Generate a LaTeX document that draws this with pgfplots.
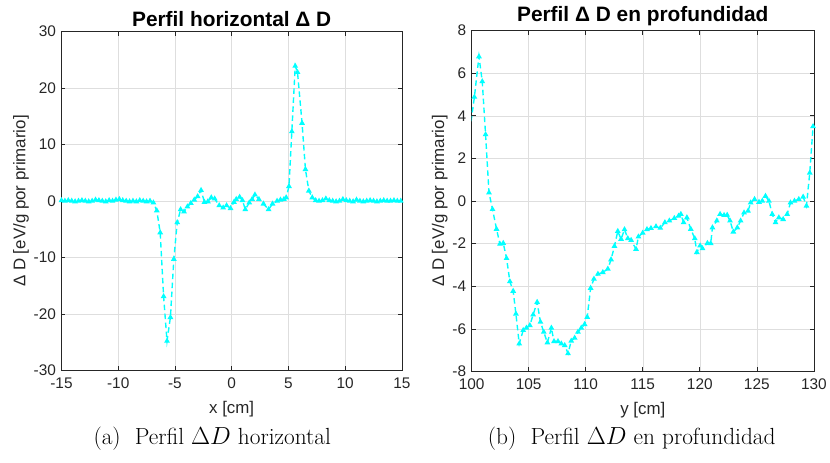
\documentclass[border=0pt]{standalone}
\usepackage{pgfplots}
\pgfplotsset{compat=1.18}
\usepackage{fontspec}
\newfontfamily\arial{Liberation Sans}
\definecolor{axc}{rgb}{0.15,0.15,0.15}
\definecolor{mcyan}{rgb}{0,1,1}
\pgfplotsset{mystyle/.style={
  scale only axis,
  axis line style={axc, line width=0.6bp},
  tick style={axc, line width=0.6bp},
  tick align=inside,
  major tick length=4bp,
  grid=major,
  grid style={black!13, line width=0.5bp},
  ticklabel style={font=\arial\fontsize{15.5}{17}\selectfont, text=axc},
  xticklabel style={yshift=-4bp},
  yticklabel style={xshift=-2bp},
  label style={font=\arial\fontsize{17}{19}\selectfont, text=axc},
  xlabel style={yshift=-6bp},
  ylabel style={yshift=-2bp},
  title style={font=\arial\bfseries\fontsize{21}{24}\selectfont, text=black, yshift=-5bp},
},
mplot/.style={color=mcyan, dash pattern=on 5.5bp off 3.5bp, line width=1.4bp, mark=triangle*, mark size=2bp, mark options={solid, fill=mcyan}}}
\begin{document}
\begin{tikzpicture}
\path (0,0) rectangle (830bp,464bp);
\begin{axis}[mystyle,
  at={(61.7bp,92.3bp)}, anchor=south west,
  width=341.6bp, height=340bp,
  xmin=-15, xmax=15, ymin=-30, ymax=30,
  xtick={-15,-10,-5,0,5,10,15},
  xticklabels={-15,-10,-5,0,5,10,15},
  ytick={-30,-20,-10,0,10,20,30},
  yticklabels={-30,-20,-10,0,10,20,30},
  title={Perfil horizontal Δ D},
  xlabel={x [cm]},
  ylabel={Δ D [eV/g por primario]},
]
\addplot[mplot] coordinates {
(-15.0,0.1) (-14.7,0.0) (-14.4,0.1) (-14.1,0.0) (-13.8,-0.1) (-13.5,0.0)
(-13.2,0.1) (-12.9,0.0) (-12.6,-0.1) (-12.3,0.0) (-12.0,0.2) (-11.7,0.1)
(-11.4,0.0) (-11.1,-0.1) (-10.8,0.1) (-10.5,0.0) (-10.2,0.2) (-9.9,0.3)
(-9.6,0.1) (-9.3,0.0) (-9.0,-0.1) (-8.7,0.0) (-8.4,-0.1) (-8.1,0.1)
(-7.8,0.0) (-7.5,-0.1) (-7.2,0.0) (-6.9,-0.3) (-6.6,-1.7) (-6.3,-5.6)
(-6.0,-16.9) (-5.7,-24.8) (-5.4,-20.6) (-5.1,-10.3) (-4.8,-3.8) (-4.5,-1.5)
(-4.2,-1.9) (-3.9,-1.0) (-3.6,-0.4) (-3.3,0.2) (-3.0,0.8) (-2.7,1.9)
(-2.4,-0.2) (-2.1,-0.1) (-1.8,0.6) (-1.5,0.4) (-1.1,-0.8) (-0.75,-1.2)
(-0.45,-0.8) (-0.1,-1.3) (0.2,-0.2) (0.4,0.3) (0.7,0.7) (0.95,0.1)
(1.2,-1.5) (1.55,-0.3) (1.8,0.3) (2.05,1.1) (2.4,0.3) (2.8,-0.5)
(3.25,-1.5) (3.6,-0.5) (4.0,0.0) (4.3,0.2) (4.6,0.3) (4.8,0.6)
(5.05,2.6) (5.3,12.3) (5.6,23.9) (5.8,22.8) (6.2,13.8) (6.5,5.6)
(6.8,1.8) (7.1,0.6) (7.4,0.1) (7.7,0.0) (8.0,0.1) (8.3,0.4)
(8.6,0.1) (8.9,0.0) (9.2,-0.1) (9.5,0.0) (9.8,0.3) (10.1,0.1)
(10.4,0.0) (10.7,-0.1) (11.0,0.2) (11.3,0.0) (11.6,-0.1) (11.9,0.0)
(12.2,0.1) (12.5,0.0) (12.8,-0.1) (13.1,0.0) (13.4,0.1) (13.7,0.0)
(14.0,0.0) (14.3,0.1) (14.6,0.0) (14.9,0.0)
};
\end{axis}
\begin{axis}[mystyle,
  at={(473.3bp,91.3bp)}, anchor=south west,
  width=343.4bp, height=342bp,
  xmin=100, xmax=130, ymin=-8, ymax=8,
  xtick={100,105,110,115,120,125,130},
  xticklabels={100,105,110,115,120,125,130},
  ytick={-8,-6,-4,-2,0,2,4,6,8},
  yticklabels={-8,-6,-4,-2,0,2,4,6,8},
  title={Perfil Δ D en profundidad},
  xlabel={y [cm]},
  ylabel={Δ D [eV/g por primario]},
]
\addplot[mplot] coordinates {
(99.95,3.74) (100.24,4.88) (100.64,6.78) (100.93,5.61) (101.22,3.12)
(101.52,0.39) (101.83,-0.39) (102.18,-1.32) (102.48,-2.02) (102.77,-1.98)
(103.06,-2.69) (103.35,-3.78) (103.64,-4.23) (103.88,-5.3) (104.17,-6.7)
(104.52,-6.07) (104.8,-5.96) (105.1,-5.84) (105.39,-5.34) (105.74,-4.75)
(106.03,-5.68) (106.32,-6.15) (106.64,-6.65) (106.99,-5.96) (107.22,-6.59)
(107.57,-6.59) (107.86,-6.7) (108.16,-6.78) (108.45,-7.16) (108.73,-6.57)
(109.03,-6.43) (109.32,-6.15) (109.61,-5.96) (109.9,-5.79) (110.13,-5.45)
(110.43,-4.09) (110.72,-3.66) (111.07,-3.43) (111.5,-3.35) (111.94,-3.19)
(112.22,-2.75) (112.52,-2.12) (112.81,-1.42) (113.1,-1.79) (113.4,-1.34)
(113.69,-1.76) (113.98,-1.84) (114.41,-2.26) (114.62,-1.68) (115.0,-1.5)
(115.37,-1.33) (115.72,-1.28) (116.16,-1.2) (116.54,-1.27) (116.94,-1.01)
(117.33,-0.93) (117.77,-0.81) (118.14,-0.70) (118.34,-0.62) (118.58,-1.01)
(118.87,-0.78) (119.21,-1.32) (119.56,-1.76) (119.74,-2.41) (120.03,-2.1)
(120.24,-2.23) (120.67,-1.98) (120.96,-1.99) (121.11,-1.25) (121.49,-0.93)
(121.78,-0.62) (122.13,-0.67) (122.4,-0.66) (122.65,-0.93) (122.94,-1.45)
(123.29,-1.25) (123.58,-0.93) (123.88,-0.55) (124.23,-0.47) (124.46,-0.08)
(124.8,0.08) (125.19,-0.05) (125.48,0.0) (125.76,0.23) (126.06,0.0)
(126.35,-0.62) (126.64,-1.01) (126.93,-0.78) (127.31,-0.86) (127.66,-0.62)
(127.95,-0.08) (128.3,0.0) (128.68,0.08) (129.06,0.19) (129.35,-0.23)
(129.64,1.32) (129.93,3.5)
};
\end{axis}
\node[font=\fontsize{23.5}{27}\selectfont] at (213bp,24bp) {(a)\ \ Perfil $\Delta D$ horizontal};
\node[font=\fontsize{23.5}{27}\selectfont] at (634bp,24bp) {(b)\ \ Perfil $\Delta D$ en profundidad};
\end{tikzpicture}
\end{document}
